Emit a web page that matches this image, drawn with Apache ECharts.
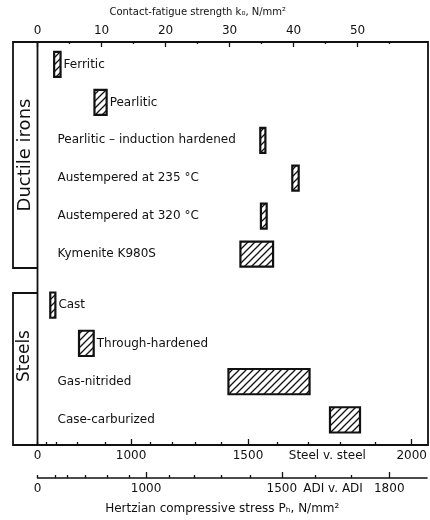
<!DOCTYPE html>
<html>
<head>
<meta charset="utf-8">
<script src="https://cdn.jsdelivr.net/npm/echarts@6/dist/echarts.min.js"></script>
<style>
  html, body { margin: 0; padding: 0; background: #fff; }
  #chart { width: 430px; height: 520px; }
</style>
</head>
<body>
<div id="chart"></div>
<script>
// Contact-fatigue strength ranges k0 (N/mm²), low and high end of each band
const ironNames  = ['Ferritic', 'Pearlitic', 'Pearlitic – induction hardened',
                    'Austempered at 235 °C', 'Austempered at 320 °C', 'Kymenite K980S'];
const ironLow    = [2.6, 8.9, 34.8, 39.8, 34.9, 31.7];
const ironHigh   = [3.6, 10.8, 35.6, 40.8, 35.8, 36.8];

const steelNames = ['Cast', 'Through-hardened', 'Gas-nitrided', 'Case-carburized'];
const steelLow   = [2.0, 6.5, 29.9, 45.8];
const steelHigh  = [2.8, 8.8, 42.6, 50.5];

// k0 scale along the top
const kTicks      = [0, 10, 20, 30, 40, 50];
const kMinorTicks = [5, 15, 25, 35, 45, 55];
const kMax = 61;

// Hertzian stress scales: k0 = factor * PH²
const steelFactor = 1.465e-5;
const adiFactor   = 1.70e-5;
const steelStressTicks  = [0, 300, 450, 650, 850, 1100, 1200, 1300, 1400, 1600, 1700, 1800, 1900];
const steelStressMajor  = [1000, 1500, 2000];
const steelStressLabels = [0, 1000, 1500, 2000];
const steelScaleName = 'Steel v. steel', steelScaleNameAt = 1760;
const adiStressTicks  = [0, 400, 520, 660, 800, 920, 1100, 1200, 1300, 1400, 1600, 1700];
const adiStressMajor  = [1000, 1500, 1800];
const adiStressLabels = [0, 1000, 1500, 1800];
const adiScaleName = 'ADI v. ADI', adiScaleNameAt = 1650;

const toK = (f) => (p) => f * p * p;
const kSteel = toK(steelFactor), kAdi = toK(adiFactor);

const FONT = 'DejaVu Sans';

// diagonal hatch used as fill for every band
function hatchPattern() {
  const s = 7;
  const c = document.createElement('canvas');
  c.width = c.height = s;
  const g = c.getContext('2d');
  g.fillStyle = '#fff';
  g.fillRect(0, 0, s, s);
  g.strokeStyle = '#111';
  g.lineWidth = 1.3;
  g.beginPath();
  g.moveTo(0, s); g.lineTo(s, 0);
  g.moveTo(-1, 1); g.lineTo(1, -1);
  g.moveTo(s - 1, s + 1); g.lineTo(s + 1, s - 1);
  g.stroke();
  return c;
}
const hatch = { image: hatchPattern(), repeat: 'repeat' };

function bandItem(params, api) {
  const cat = api.value(0), lo = api.value(1), hi = api.value(2);
  const name = api.value(3);
  const a = api.coord([lo, cat]);
  const b = api.coord([hi, cat]);
  const h = api.size([0, 1])[1] * 0.66;
  const narrowStart = lo < 15;
  const tx = narrowStart ? b[0] + 3 : params.coordSys.x + 20;
  return {
    type: 'group',
    children: [
      {
        type: 'rect',
        shape: { x: a[0], y: a[1] - h / 2, width: b[0] - a[0], height: h },
        style: { fill: hatch, stroke: '#111', lineWidth: 2.2 }
      },
      {
        type: 'text',
        x: tx, y: a[1],
        style: { text: name, fill: '#111', font: '12px "' + FONT + '"',
                 textAlign: 'left', textVerticalAlign: 'middle' }
      }
    ]
  };
}

const ironData  = ironNames.map((n, i) => [i, ironLow[i], ironHigh[i], n]);
const steelData = steelNames.map((n, i) => [i, steelLow[i], steelHigh[i], n]);

const grid1 = { left: 37.5, right: 2, top: 45.5, height: 227.5 };
const grid2 = { left: 37.5, right: 2, top: 286, height: 153 };

const tickStyle = { color: '#111', width: 1.3 };

function stressLabel(factor, labels, name) {
  return (v) => {
    const p = Math.round(Math.sqrt(v / factor));
    return labels.includes(p) ? String(p) : name;
  };
}

const option = {
  animation: false,
  backgroundColor: '#fff',
  grid: [grid1, grid2],
  xAxis: [
    {
      gridIndex: 0, type: 'value', position: 'top', min: 0, max: kMax, offset: 3.5,
      name: 'Contact-fatigue strength k₀, N/mm²', nameLocation: 'middle', nameGap: 25,
      nameTextStyle: { fontFamily: FONT, fontSize: 10, color: '#111', padding: [0, 70, 0, 0] },
      axisLine: { show: false },
      axisTick: { show: true, inside: true, length: 5, customValues: kTicks, lineStyle: tickStyle },
      minorTick: { show: false },
      axisLabel: { customValues: kTicks, margin: 5, fontFamily: FONT, fontSize: 12, color: '#111' },
      splitLine: { show: false }
    },
    {
      // minor k0 ticks
      gridIndex: 0, type: 'value', position: 'top', min: 0, max: kMax, offset: 3.5,
      axisLine: { show: false },
      axisTick: { show: true, inside: true, length: 2, customValues: kMinorTicks, lineStyle: tickStyle },
      axisLabel: { show: false }, splitLine: { show: false }
    },
    {
      gridIndex: 1, type: 'value', position: 'bottom', min: 0, max: kMax, offset: 6,
      axisLine: { show: false },
      axisTick: { show: true, inside: true, length: 3, customValues: steelStressTicks.map(kSteel), lineStyle: tickStyle },
      axisLabel: {
        customValues: steelStressLabels.concat([steelScaleNameAt]).map(kSteel),
        formatter: stressLabel(steelFactor, steelStressLabels, steelScaleName),
        margin: 5, fontFamily: FONT, fontSize: 12, color: '#111'
      },
      splitLine: { show: false }
    },
    {
      gridIndex: 1, type: 'value', position: 'bottom', min: 0, max: kMax, offset: 6,
      axisLine: { show: false },
      axisTick: { show: true, inside: true, length: 6, customValues: steelStressMajor.map(kSteel), lineStyle: tickStyle },
      axisLabel: { show: false }, splitLine: { show: false }
    },
    {
      gridIndex: 1, type: 'value', position: 'bottom', min: 0, max: kMax, offset: 39,
      name: 'Hertzian compressive stress Pₕ, N/mm²',
      nameLocation: 'middle', nameGap: 25,
      nameTextStyle: { fontFamily: FONT, fontSize: 12, color: '#111', padding: [0, 20, 0, 0] },
      axisLine: { show: true, lineStyle: { color: '#111', width: 1.5 } },
      axisTick: { show: true, inside: true, length: 3, customValues: adiStressTicks.map(kAdi), lineStyle: tickStyle },
      axisLabel: {
        customValues: adiStressLabels.concat([adiScaleNameAt]).map(kAdi),
        formatter: stressLabel(adiFactor, adiStressLabels, adiScaleName),
        margin: 5, fontFamily: FONT, fontSize: 12, color: '#111'
      },
      splitLine: { show: false }
    },
    {
      gridIndex: 1, type: 'value', position: 'bottom', min: 0, max: kMax, offset: 39,
      axisLine: { show: false },
      axisTick: { show: true, inside: true, length: 6, customValues: adiStressMajor.map(kAdi), lineStyle: tickStyle },
      axisLabel: { show: false }, splitLine: { show: false }
    }
  ],
  yAxis: [
    { gridIndex: 0, type: 'category', inverse: true, data: ironNames, show: false },
    { gridIndex: 1, type: 'category', inverse: true, data: steelNames, show: false }
  ],
  series: [
    {
      type: 'custom', xAxisIndex: 0, yAxisIndex: 0, renderItem: bandItem,
      encode: { x: [1, 2], y: 0 }, data: ironData, silent: true
    },
    {
      type: 'custom', xAxisIndex: 2, yAxisIndex: 1, renderItem: bandItem,
      encode: { x: [1, 2], y: 0 }, data: steelData, silent: true
    }
  ],
  graphic: [
    // frame with the two group boxes on the left
    {
      type: 'polyline', silent: true,
      shape: { points: [[37.5, 268], [13, 268], [13, 42], [428, 42], [428, 445], [13, 445], [13, 293], [37.5, 293]] },
      style: { stroke: '#111', lineWidth: 1.8, fill: null }
    },
    {
      type: 'line', silent: true,
      shape: { x1: 37.5, y1: 42, x2: 37.5, y2: 445 },
      style: { stroke: '#111', lineWidth: 1.8 }
    },
    {
      type: 'text', silent: true, x: 25, y: 155, rotation: Math.PI / 2,
      style: { text: 'Ductile irons', font: '18px "' + FONT + '"', fill: '#111',
               textAlign: 'center', textVerticalAlign: 'middle' }
    },
    {
      type: 'text', silent: true, x: 25, y: 356, rotation: Math.PI / 2,
      style: { text: 'Steels', font: '17px "' + FONT + '"', fill: '#111',
               textAlign: 'center', textVerticalAlign: 'middle' }
    }
  ]
};

const chart = echarts.init(document.getElementById('chart'), null, { renderer: 'canvas' });
chart.setOption(option);
</script>
</body>
</html>
